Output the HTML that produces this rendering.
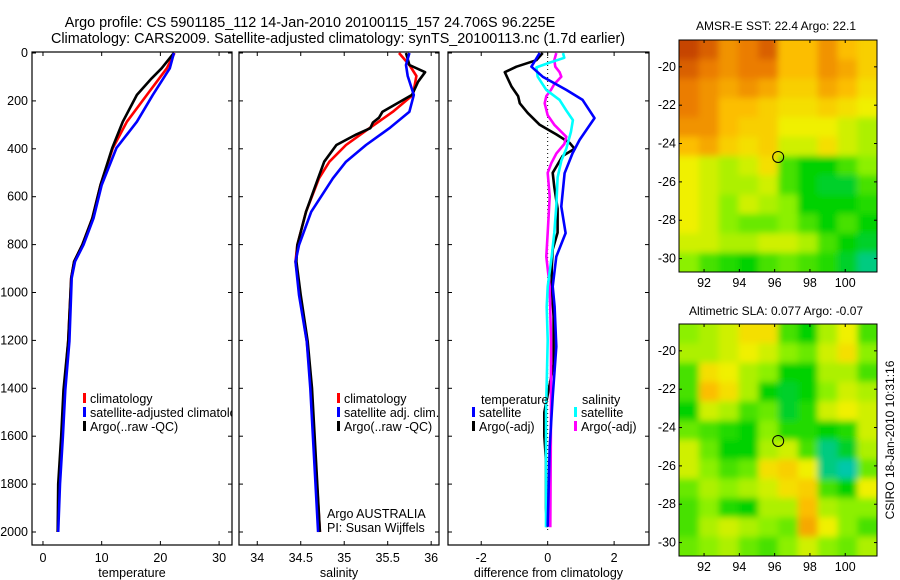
<!DOCTYPE html>
<html><head><meta charset="utf-8"><style>
body{margin:0;background:#fff}
svg{display:block;font-family:"Liberation Sans",sans-serif}
text{fill:#000}
</style></head><body>
<svg id="fig" width="900" height="580" viewBox="0 0 900 580">
<defs>
<filter id="blr" x="-10%" y="-10%" width="120%" height="120%"><feGaussianBlur stdDeviation="3.2"/></filter>
<clipPath id="c1"><rect x="679" y="40" width="198" height="232"/></clipPath>
<clipPath id="c2"><rect x="679" y="324" width="198" height="232"/></clipPath>
<clipPath id="p1clip"><rect x="32" y="52" width="200" height="493"/></clipPath>
</defs>
<text x="310" y="27" font-size="14.4" text-anchor="middle">Argo profile: CS 5901185_112 14-Jan-2010 20100115_157 24.706S 96.225E</text>
<text x="338" y="43" font-size="14.4" text-anchor="middle">Climatology: CARS2009. Satellite-adjusted climatology: synTS_20100113.nc (1.7d earlier)</text>
<g id="root"></g>
<text x="776" y="30" font-size="12" text-anchor="middle">AMSR-E SST: 22.4 Argo: 22.1</text>
<text x="776" y="315" font-size="12" text-anchor="middle">Altimetric SLA: 0.077 Argo: -0.07</text>
<text transform="translate(894,440) rotate(-90)" font-size="12" text-anchor="middle">CSIRO 18-Jan-2010 10:31:16</text>
<text x="327" y="518" font-size="12.5">Argo AUSTRALIA</text>
<text x="327" y="532" font-size="12.5">PI: Susan Wijffels</text>
</svg>
<script>
// ---- data ----
const depthTicks=[0,200,400,600,800,1000,1200,1400,1600,1800,2000];
const tempTicks=[0,10,20,30];
const salTicks=[34,34.5,35,35.5,36];
const diffTicks=[-2,0,2];
const tClimD=[0,64,175,287,397,551,690,801,871,940,1204,1407,1600,1800,2000];
const tClimV=[22.4,21.1,17.7,14.3,11.9,9.8,8.4,6.7,5.3,4.8,4.3,3.6,3.2,2.8,2.5];
const tSatD=[0,64,175,287,397,551,690,801,871,940,1204,1407,1600,1800,2000];
const tSatV=[22.3,21.6,18.7,16.0,12.5,10.0,8.6,6.9,5.45,4.9,4.5,3.8,3.4,2.9,2.6];
const tArgD=[0,64,106,175,287,397,551,690,801,871,940,1204,1407,1600,1800,2000];
const tArgV=[22.3,20.2,18.5,16.0,13.6,11.8,9.8,8.4,6.7,5.3,4.8,4.3,3.5,3.1,2.6,2.5];
const sClimD=[0,50,96,175,245,314,384,454,523,663,802,871,1010,1205,1400,2000];
const sClimV=[35.63,35.75,35.83,35.79,35.56,35.29,35.02,34.83,34.71,34.56,34.46,34.44,34.49,34.57,34.62,34.72];
const sSatD=[0,50,96,175,245,314,384,454,523,663,802,871,1010,1205,1400,2000];
const sSatV=[35.75,35.71,35.73,35.80,35.75,35.52,35.25,35.02,34.87,34.62,34.48,34.44,34.48,34.57,34.61,34.70];
const sArgD=[0,50,80,120,175,245,270,290,314,340,384,454,523,663,802,871,1010,1205,1400,2000];
const sArgV=[35.71,35.75,35.93,35.85,35.78,35.44,35.40,35.33,35.30,35.14,34.91,34.77,34.70,34.56,34.46,34.45,34.50,34.58,34.63,34.72];
const dTSatD=[0,57,99,154,196,272,363,418,502,641,752,850,975,1059,1226,1435,1644,1978];
const dTSatV=[-0.24,-0.49,-0.15,0.56,1.05,1.41,0.96,0.75,0.51,0.41,0.54,0.26,0.15,0.21,0.26,0.15,0.06,0.0];
const dTArgD=[0,30,57,80,140,180,210,250,300,340,375,400,430,500,560,650,750,820,900,975,1100,1300,1500,1600,1700,1900,1980];
const dTArgV=[-0.15,-0.34,-0.94,-1.29,-1.09,-0.89,-0.84,-0.6,-0.24,0.26,0.66,0.81,0.45,0.15,0.2,0.3,0.3,0.15,0.12,0.12,0.18,0.18,-0.1,-0.1,-0.05,-0.05,-0.02];
const dSSatD=[0,20,40,60,99,154,196,240,280,330,400,450,520,640,750,850,975,1060,1200,1500,1900,1980];
const dSSatV=[0.46,0.5,0.06,-0.34,-0.3,-0.04,0.36,0.56,0.76,0.7,0.56,0.41,0.3,0.26,0.2,0.12,0.0,-0.03,0.0,-0.05,-0.05,-0.05];
const dSArgD=[0,30,57,80,99,130,154,180,210,260,300,350,380,420,460,500,600,750,850,975,1200,1500,1980];
const dSArgV=[0.26,0.2,0.23,0.36,0.41,0.2,0.1,-0.04,-0.09,0.0,0.2,0.56,0.5,0.26,0.11,0.0,0.06,0.0,-0.04,0.06,0.1,0.1,0.08];
const lonTicks=[92,94,96,98,100];
const latTicks=[-20,-22,-24,-26,-28,-30];
const argoLon=96.2, argoLat=-24.7;
const sstGrid=[
[0.95,0.9,0.8,0.85,0.9,0.7,0.7,0.8,0.7,0.65],
[0.9,0.85,0.8,0.85,0.85,0.7,0.7,0.8,0.75,0.65],
[0.85,0.8,0.75,0.8,0.75,0.65,0.65,0.75,0.7,0.6],
[0.85,0.8,0.7,0.7,0.65,0.6,0.6,0.65,0.6,0.55],
[0.8,0.8,0.7,0.65,0.65,0.55,0.55,0.55,0.5,0.45],
[0.7,0.75,0.65,0.6,0.65,0.5,0.5,0.6,0.5,0.45],
[0.55,0.5,0.45,0.5,0.6,0.3,0.2,0.2,0.3,0.4],
[0.55,0.5,0.45,0.45,0.5,0.3,0.2,0.15,0.15,0.3],
[0.55,0.5,0.4,0.5,0.45,0.4,0.2,0.2,0.2,0.25],
[0.55,0.5,0.4,0.35,0.35,0.4,0.3,0.2,0.3,0.2],
[0.5,0.5,0.45,0.45,0.5,0.5,0.45,0.3,0.2,0.15],
[0.4,0.3,0.25,0.2,0.3,0.35,0.3,0.25,0.15,0.05]];
const slaGrid=[
[0.4,0.45,0.5,0.6,0.6,0.3,0.2,0.45,0.55,0.3],
[0.45,0.45,0.5,0.55,0.5,0.4,0.35,0.5,0.6,0.4],
[0.3,0.6,0.55,0.45,0.4,0.2,0.2,0.45,0.45,0.3],
[0.3,0.7,0.6,0.45,0.2,0.15,0.2,0.4,0.5,0.45],
[0.2,0.5,0.45,0.3,0.35,0.15,0.25,0.5,0.55,0.5],
[0.35,0.3,0.25,0.2,0.4,0.25,0.25,0.2,0.25,0.5],
[0.5,0.35,0.2,0.2,0.45,0.5,0.3,0.05,0.15,0.45],
[0.5,0.4,0.3,0.35,0.6,0.65,0.55,0.05,0.0,0.35],
[0.35,0.45,0.4,0.45,0.5,0.6,0.65,0.3,0.2,0.55],
[0.3,0.4,0.25,0.2,0.45,0.45,0.7,0.45,0.4,0.4],
[0.3,0.45,0.5,0.45,0.4,0.35,0.75,0.55,0.4,0.3],
[0.35,0.4,0.45,0.35,0.3,0.4,0.5,0.4,0.35,0.45]];

// ---- drawing ----
const NS='http://www.w3.org/2000/svg';
const root=document.getElementById('root');
function mk(tag,attrs,parent){const e=document.createElementNS(NS,tag);for(const k in attrs)e.setAttribute(k,attrs[k]);(parent||root).appendChild(e);return e;}
const yD=d=>53+d*0.2395;
const panels=[
 {x0:32,x1:232,vmin:-1.87,vmax:32.2,ticks:tempTicks,label:'temperature',name:'temperature'},
 {x0:239,x1:439,vmin:33.79,vmax:36.09,ticks:salTicks,label:'salinity',name:'salinity'},
 {x0:448,x1:649,vmin:-3.0,vmax:3.05,ticks:diffTicks,label:'difference from climatology',name:'difference'}];
const PT=52,PB=545;
panels.forEach((p,i)=>{
 p.sx=v=>p.x0+(v-p.vmin)/(p.vmax-p.vmin)*(p.x1-p.x0);
 const g=mk('g',{});
 
 
 const fr=mk('rect',{x:p.x0,y:PT,width:p.x1-p.x0,height:PB-PT,fill:'none',stroke:'#000','stroke-width':1.2},g);
 
 
 depthTicks.forEach(d=>{const y=yD(d);
  mk('line',{x1:p.x0,x2:p.x0+4,y1:y,y2:y,stroke:'#000'},g);
  mk('line',{x1:p.x1-4,x2:p.x1,y1:y,y2:y,stroke:'#000'},g);
  if(i===0){const t=mk('text',{x:p.x0-4,y:y+4,'font-size':12.5,'text-anchor':'end'},g);t.textContent=d;
   
   }
 });
 p.ticks.forEach(v=>{const x=p.sx(v);
  mk('line',{x1:x,x2:x,y1:PT,y2:PT+4,stroke:'#000'},g);
  mk('line',{x1:x,x2:x,y1:PB-4,y2:PB,stroke:'#000'},g);
  const t=mk('text',{x:x,y:562,'font-size':12.5,'text-anchor':'middle'},g);t.textContent=v;
  
  
 });
 const xl=mk('text',{x:(p.x0+p.x1)/2,y:577,'font-size':12.5,'text-anchor':'middle'},g);xl.textContent=p.label;
 
 
});
function line(p,D,V,color,name){
 const pts=D.map((d,k)=>p.sx(V[k]).toFixed(1)+','+yD(d).toFixed(1)).join(' ');
 const l=mk('polyline',{points:pts,fill:'none',stroke:color,'stroke-width':2.6,'stroke-linejoin':'round'});
 
 
}
const zl=mk('line',{x1:panels[2].sx(0),x2:panels[2].sx(0),y1:yD(0),y2:yD(2000),stroke:'#000','stroke-dasharray':'1,3'});


line(panels[0],tClimD,tClimV,'#f00','temp-climatology-line');
line(panels[0],tArgD,tArgV,'#000','temp-argo-line');
line(panels[0],tSatD,tSatV,'#00f','temp-satellite-line');
line(panels[1],sClimD,sClimV,'#f00','sal-climatology-line');
line(panels[1],sArgD,sArgV,'#000','sal-argo-line');
line(panels[1],sSatD,sSatV,'#00f','sal-satellite-line');
line(panels[2],dTArgD,dTArgV,'#000','diff-temp-argo-line');
line(panels[2],dSArgD,dSArgV,'#f0f','diff-sal-argo-line');
line(panels[2],dSSatD,dSSatV,'#0ff','diff-sal-satellite-line');
line(panels[2],dTSatD,dTSatV,'#00f','diff-temp-satellite-line');
function legend(x,y,color,label,name,clip){
 const g=mk('g',clip?{'clip-path':'url(#'+clip+')'}:{});
 
 
 mk('rect',{x:x,y:y-10,width:3,height:10,fill:color},g);
 const t=mk('text',{x:x+7,y:y,'font-size':12.5},g);t.textContent=label;
}
legend(83,403,'#f00','climatology','legend-climatology','p1clip');
legend(83,417,'#00f','satellite-adjusted climatology','legend-satellite-adjusted','p1clip');
legend(83,431,'#000','Argo(..raw -QC)','legend-argo-raw','p1clip');
legend(337,403,'#f00','climatology','legend-sal-climatology');
legend(337,417,'#00f','satellite adj. clim.','legend-sal-satellite');
legend(337,431,'#000','Argo(..raw -QC)','legend-sal-argo');
const th=mk('text',{x:481,y:404,'font-size':12.5});th.textContent='temperature';


const sh=mk('text',{x:582,y:404,'font-size':12.5});sh.textContent='salinity';


legend(472,417,'#00f','satellite','legend-diff-temp-satellite');
legend(472,431,'#000','Argo(-adj)','legend-diff-temp-argo');
legend(574,417,'#0ff','satellite','legend-diff-sal-satellite');
legend(574,431,'#f0f','Argo(-adj)','legend-diff-sal-argo');
// colormap
const stops=[[0,[0,200,170]],[0.2,[0,210,0]],[0.4,[140,240,0]],[0.55,[240,240,0]],[0.7,[252,190,0]],[0.85,[235,125,0]],[1,[180,40,0]]];
function cmap(v){for(let k=1;k<stops.length;k++){if(v<=stops[k][0]){const a=stops[k-1],b=stops[k],t=(v-a[0])/(b[0]-a[0]);return 'rgb('+a[1].map((c,j)=>Math.round(c+(b[1][j]-c)*t)).join(',')+')';}}return 'rgb(180,40,0)';}
function drawMap(top,grid,clip,name){
 const L=679,R=877,B=top+232,lon0=90.58,lon1=101.8,lat0=-18.6,lat1=-30.7;
 const sx=l=>L+(l-lon0)/(lon1-lon0)*(R-L), sy=a=>top+(a-lat0)/(lat1-lat0)*(B-top);
 const g=mk('g',{});
 
 
 const cg=mk('g',{'clip-path':'url(#'+clip+')'},g);
 const bg=mk('g',{filter:'url(#blr)'},cg);
 const nr=grid.length,nc=grid[0].length,cw=(R-L)/nc,ch=(B-top)/nr;
 for(let r=-2;r<nr+2;r++)for(let c=-2;c<nc+2;c++){
  const rr=Math.min(nr-1,Math.max(0,r)),cc=Math.min(nc-1,Math.max(0,c));
  const cell=mk('rect',{x:L+c*cw,y:top+r*ch,width:cw+0.5,height:ch+0.5,fill:cmap(grid[rr][cc])},bg);
  
  
 }
 const fr=mk('rect',{x:L,y:top,width:R-L,height:B-top,fill:'none',stroke:'#000','stroke-width':1},g);
 
 
 latTicks.forEach(a=>{const y=sy(a);
  mk('line',{x1:L,x2:L+3,y1:y,y2:y,stroke:'#000'},g);mk('line',{x1:R-3,x2:R,y1:y,y2:y,stroke:'#000'},g);
  const t=mk('text',{x:L-3,y:y+4,'font-size':12.5,'text-anchor':'end'},g);t.textContent=a;
  
  });
 lonTicks.forEach(l=>{const x=sx(l);
  mk('line',{x1:x,x2:x,y1:top,y2:top+3,stroke:'#000'},g);mk('line',{x1:x,x2:x,y1:B-3,y2:B,stroke:'#000'},g);
  const t=mk('text',{x:x,y:B+15,'font-size':12.5,'text-anchor':'middle'},g);t.textContent=l;
  
  });
 const m=mk('circle',{cx:sx(argoLon),cy:sy(argoLat),r:5.5,fill:'none',stroke:'#000','stroke-width':1},g);
 
 
}
drawMap(40,sstGrid,'c1','sst-map');
drawMap(324,slaGrid,'c2','sla-map');
</script>
</body></html>
